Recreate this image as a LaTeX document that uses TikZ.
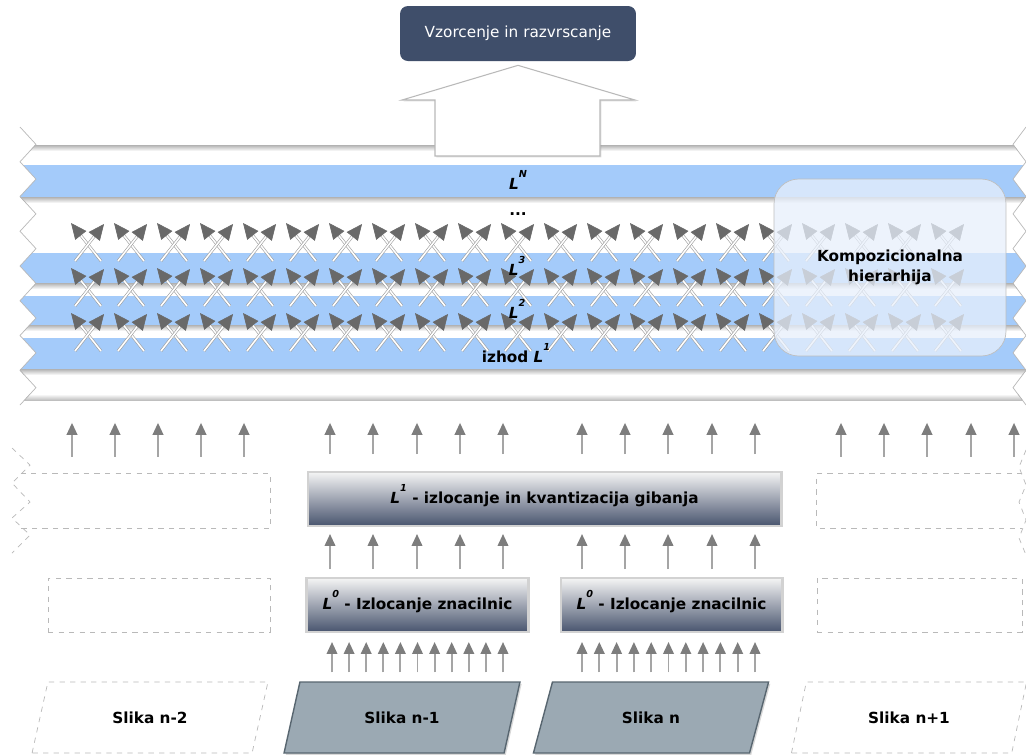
\documentclass[tikz,border=0pt]{standalone}
\usepackage{fontspec}
\setmainfont{DejaVu Sans}[ItalicFont={DejaVu Sans Oblique},BoldItalicFont={DejaVu Sans Bold Oblique}]
\usepackage{tikz}
\usetikzlibrary{shapes.geometric,arrows.meta,positioning,calc,shadows}

\definecolor{bandblue}{RGB}{164,203,250}
\definecolor{slate}{RGB}{63,78,106}
\definecolor{boxdark}{RGB}{72,84,110}
\definecolor{imgfill}{RGB}{155,169,179}
\definecolor{imgedge}{RGB}{88,102,112}
\definecolor{shaftgray}{RGB}{165,165,165}
\definecolor{headgray}{RGB}{125,125,125}
\definecolor{crossgray}{RGB}{105,105,105}
\definecolor{hierfill}{RGB}{232,240,252}

\newcommand{\Lsup}[1]{\textit{L}\raisebox{6.5pt}[0pt][0pt]{\fontsize{5.5}{6}\selectfont\textit{#1}}}

\begin{document}
\begin{tikzpicture}[
  x=0.02cm, y=-0.02cm,
  every node/.style={font=\fontsize{8.7}{11.3}\selectfont\bfseries},
  topbox/.style={rectangle, rounded corners=4.5pt, fill=slate, text=white,
    minimum width=4.72cm, minimum height=1.1cm, font=\fontsize{8.7}{11}\selectfont},
  stage/.style={rectangle, draw=gray!35, line width=1.2pt, top color=white!92!gray,
    bottom color=boxdark, minimum height=1.08cm,
    drop shadow={opacity=0.25, shadow xshift=0.8pt, shadow yshift=-0.8pt}},
  ghost/.style={draw=gray!55, dashed, line width=0.4pt},
  slika/.style={trapezium, trapezium left angle=74, trapezium right angle=106,
    trapezium stretches=true, minimum width=4.72cm, minimum height=1.42cm, ghost},
  slikaon/.style={solid, draw=imgedge, fill=imgfill, line width=0.8pt,
    drop shadow={opacity=0.3, shadow xshift=1pt, shadow yshift=-1pt}},
  uparrow/.style={-{Triangle[length=6.8pt, width=6pt, color=headgray]}, shaftgray, line width=1.1pt},
  cross/.style={draw=gray!75, line width=0.35pt, double=white, double distance=0.9pt,
    -{Triangle[length=9pt, width=8pt, color=crossgray]}},
  tube/.style={top color=gray!60, bottom color=white},
  zig/.style={draw=gray!55, line width=0.4pt},
  bigarrow/.style={fill=white, draw=gray!55, line width=0.6pt,
    drop shadow={opacity=0.25, shadow xshift=0.8pt, shadow yshift=-0.8pt}},
  node distance=1cm and 0.6cm
]
\useasboundingbox (0,0) rectangle (1026,755);
\fill[white] (0,0) rectangle (1026,755);

% Layer bands with jagged ends
\begin{scope}
  \clip (20,127)
    \foreach \k [evaluate={\k as \xx using 20+16*mod(\k,2)}] in {1,...,16} { -- (\xx,127+17.375*\k) }
    \foreach \k [evaluate={\k as \xx using 1026-13*mod(\k,2)}] in {16,15,...,0} { -- (\xx,127+17.375*\k) }
    -- cycle;
  \fill[bandblue] (0,165) rectangle (1026,197);
  \fill[bandblue] (0,253) rectangle (1026,283);
  \fill[bandblue] (0,296) rectangle (1026,325);
  \fill[bandblue] (0,338) rectangle (1026,369);
  \foreach \y in {145,197,283,325,369} \fill[tube] (0,\y) rectangle (1026,\y+6);
  \fill[top color=white, bottom color=gray!50] (0,394) rectangle (1026,400);
\end{scope}
\draw[zig] (20,127)
  \foreach \k [evaluate={\k as \xx using 20+16*mod(\k,2)}] in {1,...,16} { -- (\xx,127+17.375*\k) };
\draw[zig] (1026,127)
  \foreach \k [evaluate={\k as \xx using 1026-13*mod(\k,2)}] in {1,...,16} { -- (\xx,127+17.375*\k) };
\coordinate (bandfoot) at (0,400);

% Crossed connections between layers
\foreach \r in {0,1,2}
  \foreach \c in {0,...,20} {
    \draw[cross] (88+43*\c+13,261+45*\r) -- (88+43*\c-17,223+45*\r);
    \draw[cross] (88+43*\c-13,261+45*\r) -- (88+43*\c+16,224+45*\r);
  }

% Layer labels
\node[anchor=base] (lN) at (518,189) {\Lsup{N}};
\node[anchor=base] (dots) at (518,215) {...};
\node[anchor=base] (l3) at (517,275) {\Lsup{3}};
\node[anchor=base] (l2) at (517,318) {\Lsup{2}};
\node[anchor=base] (l1out) at (516,362) {izhod \Lsup{1}};

% Hierarchy overlay
\node[rectangle, rounded corners=14pt, draw=gray!50, fill=hierfill, fill opacity=0.75,
  text opacity=1, minimum width=4.64cm, minimum height=3.54cm, align=center]
  (hier) at (890,267.5) {Kompozicionalna\\hierarhija};

% Sampling box and hollow arrow
\node[topbox] (smp) at (518,33.5) {Vzorcenje in razvrscanje};
\draw[bigarrow] ($(smp.south)+(0,4)$) -- (635,100) -- (600,100) -- (600,156)
  -- (435,156) -- (435,100) -- (402,100) -- cycle;

% Processing stages
\node[stage, minimum width=4.44cm] (l0a) at (417.5,605) {\Lsup{0} - Izlocanje znacilnic};
\node[stage, minimum width=4.44cm, right=0.6cm of l0a] (l0b) {\Lsup{0} - Izlocanje znacilnic};
\coordinate (l0mid) at ($(l0a.north)!0.5!(l0b.north)$);
\node[stage, minimum width=9.48cm, above=1cm of l0mid] (l1) {\Lsup{1} - izlocanje in kvantizacija gibanja};

% Empty neighbours
\node[ghost, minimum width=4.44cm, minimum height=1.08cm] (g0a) at (159,605) {};
\node[ghost, minimum width=4.1cm, minimum height=1.08cm] (g0b) at (919.5,605) {};
\node[minimum width=4.98cm, minimum height=1.08cm] (g1a) at (145.5,501) {};
\node[minimum width=4.1cm, minimum height=1.08cm] (g1b) at (919.5,501) {};
\draw[ghost] (g1a.north west) -- (g1a.north east) -- (g1a.south east) -- (g1a.south west);
\draw[ghost] (g1b.north east) -- (g1b.north west) -- (g1b.south west) -- (g1b.south east);
\draw[ghost] (12,448) -- (30,465) -- (12,483) -- (30,502) -- (12,518) -- (30,535) -- (12,553);
\draw[ghost] (1026,450) -- (1019,467) -- (1026,485) -- (1019,502) -- (1026,520) -- (1019,538) -- (1026,555);

% Frames
\node[slika] (s0) at (150,717.5) {Slika n-2};
\node[slika, slikaon] (s1) at (402,717.5) {Slika n-1};
\node[slika, slikaon] (s2) at (651,717.5) {Slika n};
\node[slika] (s3) at (909,717.5) {Slika n+1};

% Arrows
\foreach \x in {72,115,158,201,244}
  \draw[uparrow, shorten <=9.6pt, shorten >=13pt] (g1a.north -| \x,0) -- (bandfoot -| \x,0);
\foreach \x in {330,373,417,460,503,582,625,668,712,755}
  \draw[uparrow, shorten <=9.6pt, shorten >=13pt] (l1.north -| \x,0) -- (bandfoot -| \x,0);
\foreach \x in {841,884,927,971,1014}
  \draw[uparrow, shorten <=9.6pt, shorten >=13pt] (g1b.north -| \x,0) -- (bandfoot -| \x,0);
\foreach \x in {330,373,417,460,503}
  \draw[uparrow, shorten <=4.5pt, shorten >=4pt] (l0a.north -| \x,0) -- (l1.south -| \x,0);
\foreach \x in {582,625,668,712,755}
  \draw[uparrow, shorten <=4.5pt, shorten >=4pt] (l0b.north -| \x,0) -- (l1.south -| \x,0);
\foreach \i in {0,...,10}
  \draw[uparrow, shorten <=5.1pt, shorten >=5.1pt] (s1.north -| 332+17.1*\i,0) -- (l0a.south -| 332+17.1*\i,0);
\foreach \i in {0,...,10}
  \draw[uparrow, shorten <=5.1pt, shorten >=5.1pt] (s2.north -| 582+17.3*\i,0) -- (l0b.south -| 582+17.3*\i,0);

\end{tikzpicture}
\end{document}
